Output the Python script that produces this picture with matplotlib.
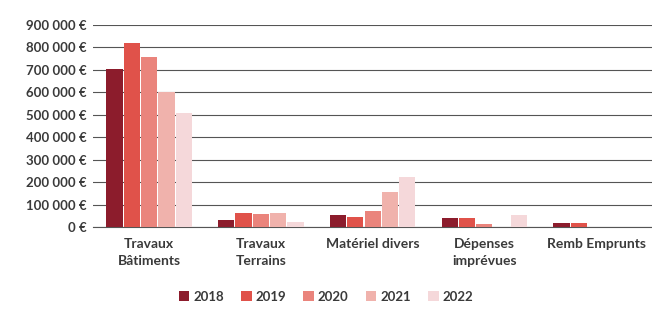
import numpy as np
import matplotlib.pyplot as plt
from matplotlib.ticker import FuncFormatter

# ------------------- Data ------------------- #
categories = ['Travaux\nBâtiments', 'Travaux\nTerrains', 'Matériel divers',
              'Dépenses\nimprévues', 'Remb Emprunts']
years = ['2018', '2019', '2020', '2021', '2022']
v2018 = [705000, 31000, 54000, 39000, 19000]
v2019 = [820000, 65000, 46000, 39000, 19000]
v2020 = [757000, 57000, 73000, 13000, 0]
v2021 = [601000, 62000, 158000, 0, 0]
v2022 = [507000, 25000, 225000, 52000, 0]
colors = ['#8c1c2c', '#e0524a', '#ea847c', '#f0b2ac', '#f5d8da']

# ------------------- Plot ------------------- #
plt.rcParams['font.family'] = ['Lato', 'DejaVu Sans']
fig = plt.figure(figsize=(6.52, 3.12), dpi=100)
ax = fig.add_axes([0.143, 0.272, 0.857, 0.648])

x = np.arange(len(categories))
w = 0.145
step = 0.155
for i, (vals, c, yr) in enumerate(zip([v2018, v2019, v2020, v2021, v2022], colors, years)):
    ax.bar(x + (i - 2) * step, vals, width=w, color=c, label=yr, zorder=3)

ax.set_xlim(-0.5, len(categories) - 0.5)
ax.set_ylim(0, 900000)
ax.set_yticks(np.arange(0, 900001, 100000))
ax.yaxis.set_major_formatter(FuncFormatter(lambda v, p: f'{int(v):,} €'.replace(',', ' ')))
ax.grid(axis='y', color='#555555', lw=0.8, zorder=0)
for s in ['top', 'right', 'left']:
    ax.spines[s].set_visible(False)
ax.spines['bottom'].set_color('#555555')
ax.tick_params(axis='both', length=0, colors='#3a3a3a', labelsize=9.5)
ax.tick_params(axis='y', pad=5)
ax.tick_params(axis='x', pad=8)
ax.set_xticks(x)
ax.set_xticklabels(categories, fontweight='bold', fontsize=10, color='#3a3a3a',
                   linespacing=1.45)
for lab in ax.get_yticklabels():
    lab.set_fontweight('bold')

leg = fig.legend(loc='center', bbox_to_anchor=(0.5, 0.048), ncol=5, frameon=False,
                 fontsize=9.5, handlelength=0.8, handleheight=0.8, handletextpad=0.3,
                 columnspacing=1.3)
for t in leg.get_texts():
    t.set_fontweight('bold')
    t.set_color('#3a3a3a')

fig.savefig('out.png', dpi=100)
